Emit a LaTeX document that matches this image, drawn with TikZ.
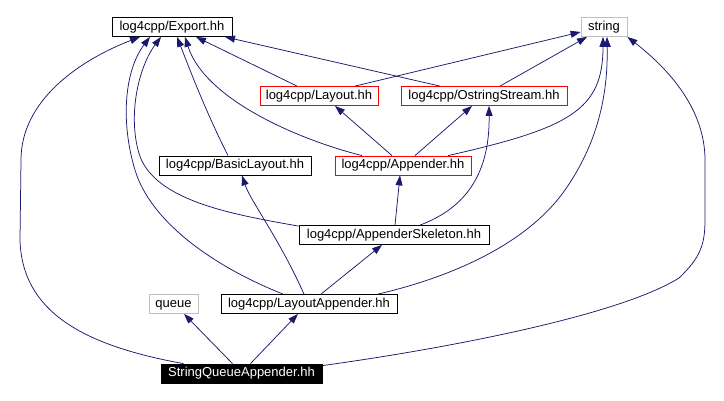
\documentclass[tikz,border=0pt]{standalone}
\usepackage{fontspec}
\setmainfont{Liberation Sans}
\usetikzlibrary{arrows.meta}
\newcommand\dgfont{\fontsize{13}{15}\selectfont}
\definecolor{edgeblue}{RGB}{25,25,112}
\definecolor{boxgray}{RGB}{191,191,191}
\definecolor{boxred}{RGB}{255,0,0}
\tikzset{
  box/.style={draw=black, line width=0.8pt, minimum height=19pt, inner sep=0pt,
    text height=9.5pt, text depth=2.7pt, font=\dgfont},
  redbox/.style={box, draw=boxred},
  graybox/.style={box, draw=boxgray},
  mainbox/.style={box, fill=black, text=white},
  dep/.style={draw=edgeblue, line width=0.75pt, -{Triangle[length=10pt,width=7pt]}, fill=none},
}
\begin{document}
\begin{tikzpicture}[x=1pt,y=-1pt]
\useasboundingbox (0,0) rectangle (724,401);
% nodes
\node[box, minimum width=120pt] (export) at (172,27) {log4cpp/Export.hh};
\node[graybox, minimum width=46pt] (string) at (604,27) {string};
\node[redbox, minimum width=118pt] (layout) at (319,96) {log4cpp/Layout.hh};
\node[redbox, minimum width=166pt] (ostr) at (484,96) {log4cpp/OstringStream.hh};
\node[box, minimum width=152pt] (basic) at (235,165.5) {log4cpp/BasicLayout.hh};
\node[redbox, minimum width=136pt] (appender) at (403,165.5) {log4cpp/Appender.hh};
\node[box, minimum width=190pt] (skel) at (394,235) {log4cpp/AppenderSkeleton.hh};
\node[box, minimum width=176pt] (la) at (309,304) {log4cpp/LayoutAppender.hh};
\node[graybox, minimum width=49pt] (queue) at (173.5,304) {queue};
\node[mainbox, minimum width=161pt] (sqa) at (241.5,373.5) {StringQueueAppender.hh};
% edges
\draw[dep] ([xshift=-58pt]sqa.north) .. controls (80,345) and (22,310) .. (20,240)
  -- (21,160) .. controls (21,100) and (80,60) .. ([xshift=-32pt]export.south);
\draw[dep] ([yshift=-2pt]sqa.north east) .. controls (450,348) and (620,315) .. (679,278)
  .. controls (700,258) and (705,245) .. (705,220) -- (705,160)
  .. controls (705,110) and (670,70) .. (string.south east);
\draw[dep] ([xshift=-9pt]sqa.north) -- ([xshift=10.5pt]queue.south);
\draw[dep] ([xshift=9pt]sqa.north) -- ([xshift=-11pt]la.south);
\draw[dep] ([xshift=-26pt]la.north) .. controls (210,265) and (150,220) .. (135,170)
  .. controls (120,120) and (125,70) .. ([xshift=-22pt]export.south);
\draw[dep] ([yshift=-1pt]skel.north west) .. controls (230,214) and (150,200) .. (138,150)
  .. controls (128,110) and (140,65) .. ([xshift=-11pt]export.south);
\draw[dep] ([xshift=-7pt]basic.north) .. controls (205,110) and (190,70) .. ([xshift=5pt]export.south);
\draw[dep] ([xshift=-41pt]appender.north) .. controls (300,140) and (205,100) .. ([xshift=13pt]export.south);
\draw[dep] ([xshift=-22pt]layout.north) -- ([xshift=24pt]export.south);
\draw[dep] ([xshift=-44pt]ostr.north) -- ([xshift=53pt]export.south);
\draw[dep] ([xshift=36pt]layout.north) -- ([yshift=-5pt]string.west);
\draw[dep] ([xshift=16pt]ostr.north) -- ([xshift=-17pt]string.south);
\draw[dep] ([xshift=-11pt]appender.north) -- ([xshift=16pt]layout.south);
\draw[dep] ([xshift=12pt]appender.north) -- ([xshift=-12pt]ostr.south);
\draw[dep] ([xshift=45pt]appender.north) .. controls (570,128) and (603,110) .. ([xshift=-1pt]string.south);
\draw[dep] ([xshift=1pt]skel.north) -- ([xshift=-3pt]appender.south);
\draw[dep] ([xshift=26pt]skel.north) .. controls (460,210) and (490,180) .. ([xshift=5pt]ostr.south);
\draw[dep] ([xshift=12pt]la.north) -- ([xshift=-12pt]skel.south);
\draw[dep] ([xshift=69pt]la.north) .. controls (460,275) and (530,240) .. (565,190)
  .. controls (600,140) and (608,90) .. ([xshift=3pt]string.south);
\draw[dep] ([xshift=-5pt]la.north) .. controls (280,240) and (250,200) .. ([xshift=7pt]basic.south);
\end{tikzpicture}
\end{document}
